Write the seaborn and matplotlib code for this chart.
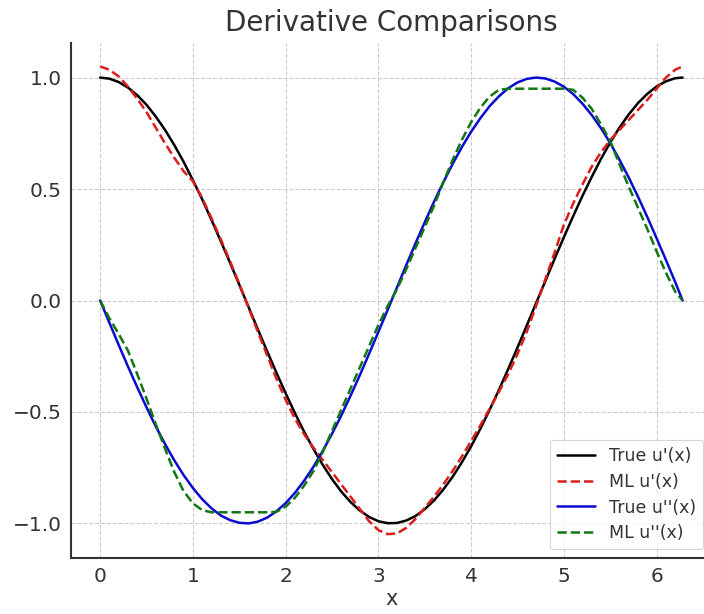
import matplotlib
matplotlib.use("Agg")
import matplotlib.pyplot as plt
import seaborn as sns
import pandas as pd

# sample points along x
x = [0.0, 0.1, 0.2, 0.3, 0.4, 0.5, 0.6, 0.7, 0.8, 0.9,
     1.0, 1.1, 1.2, 1.3, 1.4, 1.5, 1.6, 1.7, 1.8, 1.9,
     2.0, 2.1, 2.2, 2.3, 2.4, 2.5, 2.6, 2.7, 2.8, 2.9,
     3.0, 3.1, 3.2, 3.3, 3.4, 3.5, 3.6, 3.7, 3.8, 3.9,
     4.0, 4.1, 4.2, 4.3, 4.4, 4.5, 4.6, 4.7, 4.8, 4.9,
     5.0, 5.1, 5.2, 5.3, 5.4, 5.5, 5.6, 5.7, 5.8, 5.9,
     6.0, 6.1, 6.2, 6.28]

true_du = [1.000, 0.995, 0.980, 0.955, 0.921, 0.878, 0.825, 0.765, 0.697, 0.622,
           0.540, 0.454, 0.362, 0.267, 0.170, 0.071, -0.029, -0.129, -0.227, -0.323,
           -0.416, -0.505, -0.589, -0.666, -0.737, -0.801, -0.857, -0.904, -0.942, -0.971,
           -0.990, -0.999, -0.998, -0.987, -0.967, -0.936, -0.897, -0.848, -0.791, -0.726,
           -0.654, -0.575, -0.490, -0.401, -0.307, -0.211, -0.112, -0.012, 0.087, 0.187,
           0.284, 0.378, 0.469, 0.554, 0.635, 0.709, 0.776, 0.835, 0.886, 0.927,
           0.960, 0.983, 0.997, 1.000]

ml_du = [1.050, 1.035, 1.005, 0.960, 0.905, 0.845, 0.775, 0.705, 0.640, 0.580,
         0.535, 0.460, 0.370, 0.275, 0.177, 0.075, -0.032, -0.140, -0.245, -0.350,
         -0.445, -0.530, -0.600, -0.660, -0.715, -0.770, -0.825, -0.880, -0.935, -0.990,
         -1.030, -1.048, -1.045, -1.020, -0.980, -0.930, -0.880, -0.825, -0.765, -0.700,
         -0.630, -0.560, -0.485, -0.410, -0.330, -0.240, -0.140, -0.025, 0.095, 0.215,
         0.340, 0.435, 0.520, 0.600, 0.665, 0.720, 0.765, 0.810, 0.855, 0.900,
         0.950, 1.000, 1.035, 1.050]

true_d2u = [0.000, -0.100, -0.199, -0.296, -0.389, -0.479, -0.565, -0.644, -0.717, -0.783,
            -0.841, -0.891, -0.932, -0.964, -0.985, -0.997, -1.000, -0.992, -0.974, -0.946,
            -0.909, -0.863, -0.808, -0.746, -0.675, -0.598, -0.516, -0.427, -0.335, -0.239,
            -0.141, -0.042, 0.058, 0.158, 0.256, 0.351, 0.443, 0.530, 0.612, 0.688,
            0.757, 0.818, 0.872, 0.916, 0.952, 0.978, 0.994, 1.000, 0.996, 0.982,
            0.959, 0.926, 0.883, 0.832, 0.773, 0.706, 0.631, 0.551, 0.465, 0.374,
            0.279, 0.182, 0.083, 0.000]

ml_d2u = [0.000, -0.080, -0.150, -0.225, -0.330, -0.440, -0.555, -0.665, -0.770, -0.855,
          -0.910, -0.940, -0.950, -0.950, -0.950, -0.950, -0.950, -0.950, -0.950, -0.948,
          -0.925, -0.885, -0.830, -0.765, -0.680, -0.585, -0.490, -0.395, -0.300, -0.205,
          -0.110, -0.025, 0.050, 0.140, 0.235, 0.330, 0.425, 0.530, 0.630, 0.720,
          0.800, 0.865, 0.915, 0.945, 0.950, 0.950, 0.950, 0.950, 0.950, 0.950,
          0.950, 0.945, 0.910, 0.860, 0.790, 0.715, 0.610, 0.510, 0.415, 0.320,
          0.220, 0.125, 0.040, 0.000]

df = pd.DataFrame({"x": x, "true_du": true_du, "ml_du": ml_du,
                   "true_d2u": true_d2u, "ml_d2u": ml_d2u})

sns.set_theme(style="whitegrid")
plt.rcParams["font.family"] = ["DejaVu Sans"]

fig = plt.figure(figsize=(7.04, 6.14), dpi=100)
ax = fig.add_axes([71 / 704, 1 - 558 / 614, (712 - 71) / 704, (558 - 43) / 614])

series = [
    ("true_du", "True u'(x)", "black", "-"),
    ("ml_du", "ML u'(x)", "#dd1c1c", "--"),
    ("true_d2u", "True u''(x)", "#0a0ad0", "-"),
    ("ml_d2u", "ML u''(x)", "#117711", "--"),
]
for col, label, color, ls in series:
    sns.lineplot(data=df, x="x", y=col, ax=ax, color=color, linestyle=ls,
                 linewidth=1.8, label=label, sort=False)

ax.set_xlim(-0.314, 6.597)
ax.set_ylim(-1.155, 1.155)
ax.set_xticks([0, 1, 2, 3, 4, 5, 6])
ax.set_yticks([-1.0, -0.5, 0.0, 0.5, 1.0])
ax.set_yticklabels(["\u22121.0", "\u22120.5", "0.0", "0.5", "1.0"])

ax.set_title("Derivative Comparisons", fontsize=20, color="#333333", pad=8.5)
ax.set_xlabel("x", fontsize=15, color="#333333", labelpad=2)
ax.set_ylabel("")

ax.set_facecolor("white")
ax.grid(True, linestyle="--", color="#cccccc", linewidth=0.8)
for side in ("top", "right"):
    ax.spines[side].set_visible(False)
for side in ("left", "bottom"):
    ax.spines[side].set_visible(True)
    ax.spines[side].set_color("#333333")
    ax.spines[side].set_linewidth(1.5)
ax.tick_params(axis="both", direction="in", length=5, width=1.0, color="#333333",
               labelsize=14.5, labelcolor="#333333", pad=6.5)

leg = ax.legend(loc="lower right", fontsize=12.5, frameon=True, fancybox=True,
                borderpad=0.4, labelspacing=0.45, handlelength=2.2)
leg.get_frame().set_edgecolor("#cccccc")
leg.get_frame().set_linewidth(0.8)
for t in leg.get_texts():
    t.set_color("#333333")

fig.savefig("out.png", dpi=100)
